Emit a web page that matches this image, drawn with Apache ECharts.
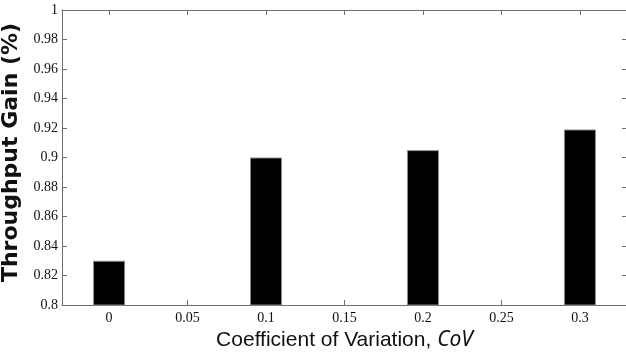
<!DOCTYPE html>
<html>
<head>
<meta charset="utf-8">
<script src="https://cdn.jsdelivr.net/npm/echarts@6/dist/echarts.min.js"></script>
<style>
  html, body { margin: 0; padding: 0; background: #fff; }
  #chart { width: 626px; height: 353px; }
</style>
</head>
<body>
<div id="chart"></div>
<script>
// Coefficient of variation values where a bar is drawn, and the gain measured at each
const covValues = [0, 0.1, 0.2, 0.3];
const gainValues = [0.83, 0.90, 0.905, 0.919];

// Tick positions shown on the x axis
const xTickValues = [0, 0.05, 0.1, 0.15, 0.2, 0.25, 0.3];

const axisGray = '#6e6e6e';
const serifFont = "'Liberation Serif', 'Times New Roman', serif";

const chart = echarts.init(document.getElementById('chart'), null, { renderer: 'canvas' });

const frameLine = { show: true, onZero: false, lineStyle: { color: axisGray, width: 1 } };

chart.setOption({
  animation: false,
  backgroundColor: '#fff',
  grid: { left: 62, top: 10, width: 565, height: 295, containLabel: false, outerBoundsMode: 'none' },
  xAxis: [
    {
      type: 'value',
      position: 'bottom',
      min: -0.03,
      max: 0.33,
      splitLine: { show: false },
      axisLine: frameLine,
      axisTick: { show: true, inside: true, length: 5, lineStyle: { color: axisGray }, customValues: xTickValues },
      axisLabel: {
        customValues: xTickValues,
        margin: 6,
        color: '#111',
        fontFamily: serifFont,
        fontSize: 14
      },
      name: '{a|Coefficient of Variation, }{b|CoV}',
      nameLocation: 'middle',
      nameGap: 22,
      nameTextStyle: {
        rich: {
          a: { fontFamily: "'Liberation Sans', Arial, sans-serif", fontSize: 21, color: '#111' },
          b: { fontFamily: "'Noto Sans', sans-serif", fontStyle: 'italic', fontSize: 21, color: '#111' }
        }
      }
    },
    {
      type: 'value',
      position: 'top',
      min: -0.03,
      max: 0.33,
      splitLine: { show: false },
      axisLine: frameLine,
      axisTick: { show: true, inside: true, length: 5, lineStyle: { color: axisGray }, customValues: xTickValues },
      axisLabel: { show: false }
    }
  ],
  yAxis: [
    {
      type: 'value',
      position: 'left',
      min: 0.8,
      max: 1,
      interval: 0.02,
      splitLine: { show: false },
      axisLine: frameLine,
      axisTick: { show: true, inside: true, length: 5, lineStyle: { color: axisGray } },
      axisLabel: {
        margin: 4,
        color: '#111',
        fontFamily: serifFont,
        fontSize: 14
      },
      name: 'Throughput Gain (%)',
      nameLocation: 'middle',
      nameRotate: 90,
      nameGap: 30,
      nameTextStyle: {
        fontFamily: "'DejaVu Sans', sans-serif",
        fontWeight: 'bold',
        fontSize: 22,
        color: '#111',
        padding: [0, 0, 0, 10]
      }
    },
    {
      type: 'value',
      position: 'right',
      min: 0.8,
      max: 1,
      interval: 0.02,
      splitLine: { show: false },
      axisLine: frameLine,
      axisTick: { show: true, inside: true, length: 5, lineStyle: { color: axisGray } },
      axisLabel: { show: false }
    }
  ],
  series: [
    {
      type: 'bar',
      xAxisIndex: 0,
      yAxisIndex: 0,
      barWidth: 32,
      data: covValues.map((c, i) => [c, gainValues[i]]),
      itemStyle: { color: '#000', borderColor: '#8a8a8a', borderWidth: 1 }
    }
  ]
});
</script>
</body>
</html>
